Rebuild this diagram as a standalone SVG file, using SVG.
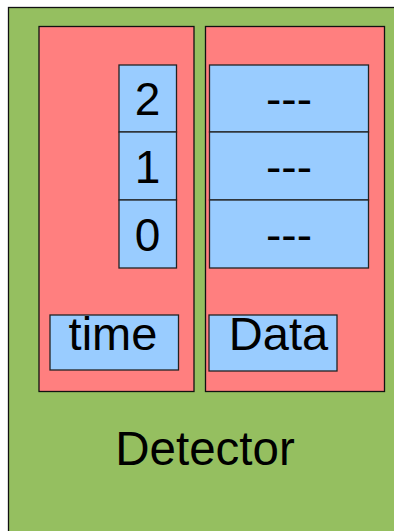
<svg xmlns="http://www.w3.org/2000/svg" width="394" height="531" viewBox="0 0 394 531">
  <style>
    .det { fill: #95bf60; stroke: #111; stroke-width: 1.3; }
    .panel { fill: #ff7f7f; stroke: #111; stroke-width: 1.3; }
    .cell { fill: #99ccff; stroke: #222; stroke-width: 1.3; }
    .lbl { font-family: "Liberation Sans", Arial, sans-serif; font-size: 46px; fill: #000; text-anchor: middle; }
  </style>
  <rect width="394" height="531" fill="#ffffff"/>

  <!-- detector enclosure (runs off the right and bottom edges) -->
  <g id="detector">
    <rect class="det" x="8.5" y="7.5" width="400" height="540"/>
    <text class="lbl" x="205" y="465" style="font-size:47.5px">Detector</text>
  </g>

  <!-- time column -->
  <g id="time-panel">
    <rect class="panel" x="39" y="26.5" width="155" height="365"/>
  </g>
  <g id="slot-2">
    <rect class="cell" x="119" y="65" width="57.5" height="67"/>
    <text class="lbl" x="147.5" y="115">2</text>
  </g>
  <g id="slot-1">
    <rect class="cell" x="119" y="132" width="57.5" height="68"/>
    <text class="lbl" x="147.5" y="182.5">1</text>
  </g>
  <g id="slot-0">
    <rect class="cell" x="119" y="200" width="57.5" height="68"/>
    <text class="lbl" x="147.5" y="250.5">0</text>
  </g>
  <g id="time">
    <rect class="cell" x="50" y="315" width="128.5" height="55"/>
    <text class="lbl" x="113" y="350" style="font-size:47px">time</text>
  </g>

  <!-- data column -->
  <g id="data-panel">
    <rect class="panel" x="205.5" y="26.5" width="179" height="365"/>
  </g>
  <g id="data-2">
    <rect class="cell" x="209.5" y="65" width="159" height="67"/>
    <text class="lbl" x="289" y="115">---</text>
  </g>
  <g id="data-1">
    <rect class="cell" x="209.5" y="132" width="159" height="68"/>
    <text class="lbl" x="289" y="182.5">---</text>
  </g>
  <g id="data-0">
    <rect class="cell" x="209.5" y="200" width="159" height="68"/>
    <text class="lbl" x="289" y="250.5">---</text>
  </g>
  <g id="data">
    <rect class="cell" x="209" y="315" width="128" height="56"/>
    <text class="lbl" x="278.5" y="350" style="font-size:47px">Data</text>
  </g>

  <g id="connectors"/>
</svg>
